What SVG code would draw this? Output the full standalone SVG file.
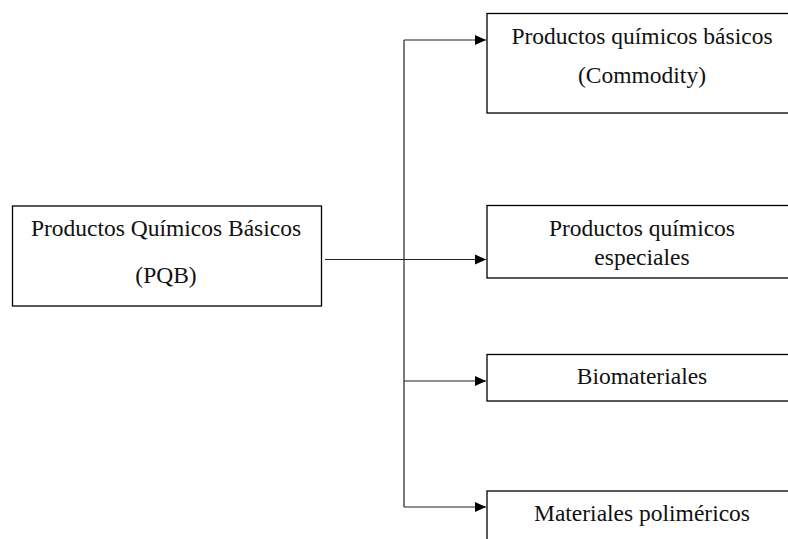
<svg xmlns="http://www.w3.org/2000/svg" width="788" height="539" viewBox="0 0 788 539">
<style>
.box{fill:#fff;stroke:#000;stroke-width:1.3}
.t{font-family:'Liberation Serif','Times New Roman','DejaVu Serif',serif;font-size:23.5px;fill:#111;text-anchor:middle}
.c{fill:none;stroke:#222;stroke-width:1.2}
</style>
<defs>
<marker id="ah" markerWidth="12" markerHeight="12" refX="11" refY="6" orient="auto" markerUnits="userSpaceOnUse">
<path d="M0,1 L11,6 L0,11 Z" fill="#000"/>
</marker>
</defs>
<rect width="788" height="539" fill="#fff"/>
<g id="connectors">
<line class="c" x1="325" y1="259.5" x2="404" y2="259.5"/>
<line class="c" x1="404" y1="40" x2="404" y2="507"/>
<line class="c" x1="404" y1="40" x2="486" y2="40" marker-end="url(#ah)"/>
<line class="c" x1="404" y1="259.5" x2="486" y2="259.5" marker-end="url(#ah)"/>
<line class="c" x1="404" y1="381" x2="486" y2="381" marker-end="url(#ah)"/>
<line class="c" x1="404" y1="507" x2="486" y2="507" marker-end="url(#ah)"/>
</g>
<g id="pqb">
<rect class="box" x="12.5" y="206" width="309" height="100"/>
<text class="t" x="166" y="235.5">Productos Químicos Básicos</text>
<text class="t" x="166" y="283">(PQB)</text>
</g>
<g id="commodity">
<rect class="box" x="487" y="13.5" width="320" height="99.5"/>
<text class="t" x="642" y="43.5">Productos químicos básicos</text>
<text class="t" x="642" y="83">(Commodity)</text>
</g>
<g id="especiales">
<rect class="box" x="487" y="205.5" width="320" height="72.5"/>
<text class="t" x="642" y="235.5">Productos químicos</text>
<text class="t" x="642" y="265">especiales</text>
</g>
<g id="biomateriales">
<rect class="box" x="487" y="354.5" width="320" height="46.5"/>
<text class="t" x="642" y="384">Biomateriales</text>
</g>
<g id="polimericos">
<rect class="box" x="487" y="491" width="320" height="80"/>
<text class="t" x="642" y="521">Materiales poliméricos</text>
</g>
</svg>
